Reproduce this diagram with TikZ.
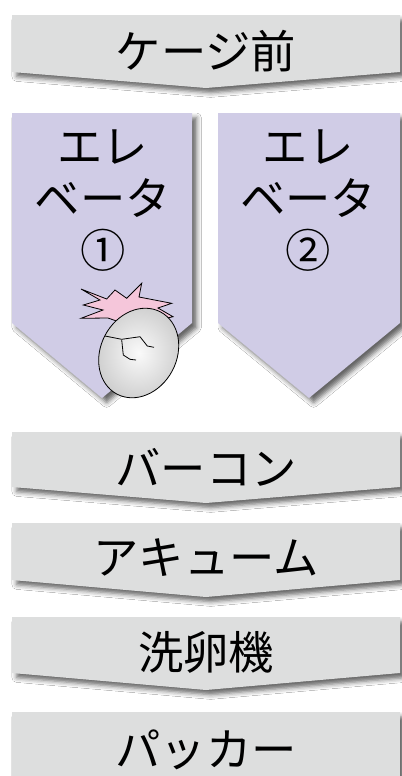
\documentclass[tikz,border=0pt]{standalone}
\usepackage{fontspec}
\newfontfamily\jpfont{Noto Sans CJK JP}
\usetikzlibrary{shadows.blur}

\definecolor{stepgrey}{RGB}{221,222,222}
\definecolor{liftlav}{RGB}{208,204,230}
\definecolor{burstpink}{RGB}{245,198,218}

\tikzset{
  chevshadow/.style={blur shadow={shadow xshift=3.5pt, shadow yshift=-3.5pt, shadow blur radius=3.5pt, shadow opacity=60}},
  greybox/.style={fill=stepgrey, chevshadow},
  liftbox/.style={fill=liftlav, chevshadow},
  lbl/.style={font=\jpfont\fontsize{34}{39}\selectfont, inner sep=0pt, align=center},
}

\begin{document}
\begin{tikzpicture}[x=0.75pt,y=0.75pt,yscale=-1,xscale=1]
\useasboundingbox (0,0) rectangle (402,776);
\fill [white] (0,0) rectangle (402,776);
\clip (0,0) rectangle (402,776);

%Shape: Chevron [ケージ前]
\path [greybox] (12,15) -- (400,15) -- (400,72) -- (206,88) -- (12,72) -- cycle;
%Shape: Chevron [elevator 1]
\path [liftbox] (12,113) -- (192,113) -- (192,323) -- (102,398) -- (12,323) -- cycle;
%Shape: Chevron [elevator 2]
\path [liftbox] (218,113) -- (400,113) -- (400,323) -- (309,398) -- (218,323) -- cycle;
%Shape: Chevron [バーコン]
\path [greybox] (12,432) -- (400,432) -- (400,487) -- (206,503) -- (12,487) -- cycle;
%Shape: Chevron [アキューム]
\path [greybox] (12,523) -- (400,523) -- (400,580) -- (206,597) -- (12,580) -- cycle;
%Shape: Chevron [洗卵機]
\path [greybox] (12,617) -- (400,617) -- (400,673) -- (206,690) -- (12,673) -- cycle;
%Shape: Rectangle [パッカー]
\path [greybox] (12,712) -- (400,712) -- (400,800) -- (12,800) -- cycle;

%Shape: Burst
\draw [fill=burstpink, line width=0.6pt, line join=miter]
  (81,289) -- (106.7,299) -- (115,290) -- (126.7,298.3) -- (141.7,283.3) -- (139,297)
  -- (171.7,303.3) -- (158,308) -- (173,316.7) -- (150,322) -- (125,324)
  -- (108,318) -- (81,318.3) -- (103,310) -- (83.3,305) -- (100,300) -- cycle;
%Shape: Egg
\draw [line width=0.6pt, rotate around={28:(138.7,353)}, shading=radial,
  inner color=white!98!black, outer color=black!20]
  (138.7,353) ellipse (38 and 46.5);
%Curve Lines: crack
\draw [line width=0.6pt] (105,336) -- (121.7,339.3) -- (140,336.7) -- (147.3,346) -- (154,347.3);
\draw [line width=0.6pt] (121.7,340) -- (123.3,355) -- (130,359.3) -- (136,360);

% Text Node
\node [lbl] (cage) at (206,51) {ケージ前};
% Text Node
\node [lbl] (lift1) at (103,201) {エレ\\ベータ\\①};
% Text Node
\node [lbl] (lift2) at (308,201) {エレ\\ベータ\\②};
% Text Node
\node [lbl] (barcon) at (206,467) {バーコン};
% Text Node
\node [lbl] (accum) at (206,558) {アキューム};
% Text Node
\node [lbl] (washer) at (206,652) {洗卵機};
% Text Node
\node [lbl] (packer) at (206,750) {パッカー};

\end{tikzpicture}
\end{document}
